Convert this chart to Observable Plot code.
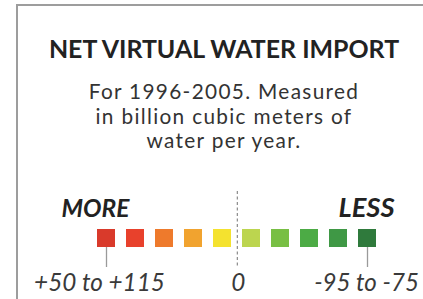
<!DOCTYPE html>
<html>
<head>
<meta charset="utf-8">
<script src="https://cdn.jsdelivr.net/npm/d3@7"></script>
<script src="https://cdn.jsdelivr.net/npm/@observablehq/plot@0.6"></script>
<style>
  html, body { margin: 0; padding: 0; background: #fff; overflow: hidden; }
  body { width: 423px; height: 299px; position: relative; font-family: Lato, "Open Sans", sans-serif; }
  #frame { position: absolute; left: 16px; top: 4px; width: 600px; height: 600px;
           border-left: 2px solid #9d9d9d; border-top: 2px solid #9d9d9d; }
  #header { position: absolute; left: 0; top: 0; width: 448px; height: 180px; text-align: center; }
  #title { position: absolute; left: 0; width: 448px; font-weight: 700; color: #222; white-space: nowrap; }
  .subline { position: absolute; left: 0; width: 448px; color: #333; white-space: nowrap; height: 25px; line-height: 25px; }
  #chart { position: absolute; left: 0; top: 180px; }
</style>
</head>
<body>
<div id="frame"></div>
<div id="header">
  <div id="title"></div>
</div>
<div id="chart"></div>
<script>
// ---- data ----
const titleText = "NET VIRTUAL WATER IMPORT";
const subtitleLines = ["For 1996-2005. Measured", "in billion cubic meters of", "water per year."];
const bins = ["b1", "b2", "b3", "b4", "b5", "b6", "b7", "b8", "b9", "b10"];
const binColors = ["#d93a2b", "#e8412c", "#ee7a2c", "#f1a32f", "#f4e22f",
                   "#bcd54f", "#78bf44", "#4cab45", "#3f9845", "#2f7a3c"];
const endLabels = ["MORE", "LESS"];
const tickLabels = ["+50 to +115", "0", "-95 to -75"];

// ---- helpers ----
const ctx = document.createElement("canvas").getContext("2d");
function measure(text, font) { ctx.font = font; return ctx.measureText(text).width; }
function fitSize(text, font, target) {
  return 100 * target / measure(text, font.replace("SIZE", "100px"));
}

function draw() {
  const FAM = "Lato";
  const tSize = fitSize(titleText, "bold SIZE " + FAM, 353);
  const title = document.getElementById("title");
  title.textContent = titleText;
  title.style.fontSize = tSize + "px";
  title.style.lineHeight = "26px";
  title.style.top = (57 - 13 - 0.36 * tSize) + "px";

  const sSize = 20.8;
  const w0 = measure(subtitleLines[0], sSize + "px " + FAM);
  const ls = (271 - w0) / subtitleLines[0].length;
  const header = document.getElementById("header");
  subtitleLines.forEach((l, i) => {
    const d = document.createElement("div");
    d.className = "subline";
    d.textContent = l;
    d.style.fontSize = sSize + "px";
    d.style.letterSpacing = ls + "px";
    d.style.top = (98 + 24.5 * i - 12.5 - 0.36 * sSize) + "px";
    header.appendChild(d);
  });

  const H = 119;
  const moreSize = fitSize(endLabels[0], "italic bold SIZE " + FAM, 68);
  const lessSize = fitSize(endLabels[1], "italic bold SIZE " + FAM, 56);
  const lab1Size = fitSize(tickLabels[0], "italic SIZE " + FAM, 131);
  const lab3Size = fitSize(tickLabels[2], "italic SIZE " + FAM, 105);
  const step = 29.67;
  const first = bins[0], last = bins[bins.length - 1], mid = bins[4];

  const plot = Plot.plot({
    width: 423,
    height: H,
    margin: 0,
    x: { type: "band", domain: bins, range: [93.85, 379.15], paddingInner: 0.383, paddingOuter: 0, axis: null },
    y: { type: "linear", domain: [0, H], range: [0, H], axis: null },
    color: { type: "ordinal", domain: bins, range: binColors },
    marks: [
      Plot.barY(bins, { x: d => d, y1: 49, y2: 67, fill: d => d }),
      Plot.ruleX([mid], { x: d => d, y1: 11, y2: 88, dx: step / 2, stroke: "#8a8a8a", strokeWidth: 1.2, strokeDasharray: "3,2.5" }),
      Plot.ruleX([first, last], { x: d => d, y1: 67, y2: 87, stroke: "#9a9a9a", strokeWidth: 1.3 }),
      Plot.text([endLabels[0]], { x: () => first, y: 36, text: d => d, dx: -11, fontSize: moreSize, fontStyle: "italic", fontWeight: "bold", fill: "#222", fontFamily: FAM, lineAnchor: "bottom" }),
      Plot.text([endLabels[1]], { x: () => last, y: 36, text: d => d, dx: -1, fontSize: lessSize, fontStyle: "italic", fontWeight: "bold", fill: "#222", fontFamily: FAM, lineAnchor: "bottom" }),
      Plot.text([tickLabels[0]], { x: () => first, y: 110, text: d => d, dx: -7, fontSize: lab1Size, fontStyle: "italic", fill: "#3a3a3a", fontFamily: FAM, lineAnchor: "bottom" }),
      Plot.text([tickLabels[1]], { x: () => mid, y: 110, text: d => d, dx: step / 2 + 1, fontSize: lab1Size, fontStyle: "italic", fill: "#3a3a3a", fontFamily: FAM, lineAnchor: "bottom" }),
      Plot.text([tickLabels[2]], { x: () => last, y: 110, text: d => d, dx: -1, fontSize: lab3Size, fontStyle: "italic", fill: "#3a3a3a", fontFamily: FAM, lineAnchor: "bottom" })
    ]
  });
  plot.style.overflow = "visible";
  document.getElementById("chart").appendChild(plot);
}

Promise.all([
  document.fonts.load("bold 20px Lato"), document.fonts.load("20px Lato"),
  document.fonts.load("italic 20px Lato"), document.fonts.load("italic bold 20px Lato")
]).then(draw, draw);
</script>
</body>
</html>
